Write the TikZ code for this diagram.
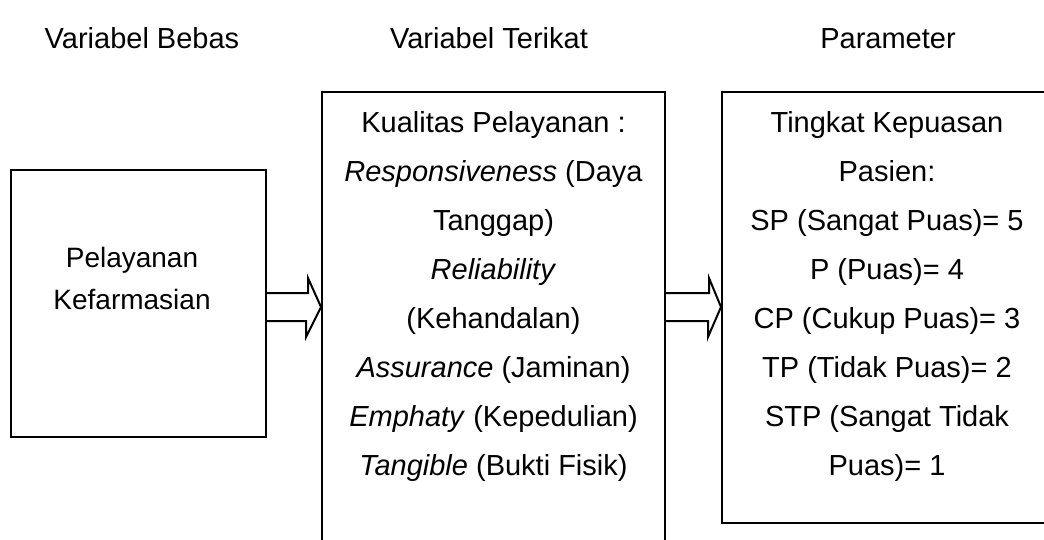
\documentclass[tikz,border=0pt]{standalone}
\usepackage{fontspec}
\setmainfont{Liberation Sans}
\usetikzlibrary{positioning}

\tikzset{
    kotak/.style={draw, line width=2pt, inner sep=0pt, anchor=north west},
    isi/.style={align=center, inner sep=0pt, anchor=north, font=\fontsize{29}{49}\selectfont},
    judul/.style={anchor=base, inner sep=0pt, font=\fontsize{29}{35}\selectfont},
    panah/.style={draw, line width=2pt, line join=miter}
}

\begin{document}
\begin{tikzpicture}[x=1pt, y=-1pt]
        \useasboundingbox (0,0) rectangle (1044,539);

        % judul kolom
        \node[judul] (hBebas) at (142,48) {Variabel Bebas};
        \node[judul] (hTerikat) at (489,48) {Variabel Terikat};
        \node[judul] (hParameter) at (888,48) {Parameter};

        % kotak
        \node[kotak, minimum width=255pt, minimum height=267pt] (bebas) at (10,169) {};
        \node[kotak, minimum width=343pt, minimum height=480pt] (terikat) at (321,91) {};
        \node[kotak, minimum width=330pt, minimum height=431pt] (parameter) at (721,91) {};

        \node[isi, font=\fontsize{28}{42.5}\selectfont] (teksBebas) at (132,247) {Pelayanan\\Kefarmasian};

        \node[isi, below=20pt of terikat.north] (teksTerikat) {Kualitas Pelayanan :\\\textit{Responsiveness} (Daya\\Tanggap)\\\textit{Reliability}\\(Kehandalan)\\\textit{Assurance} (Jaminan)\\\textit{Emphaty} (Kepedulian)\\\textit{Tangible} (Bukti Fisik)};

        \node[isi, below=20pt of parameter.north] (teksParameter) {Tingkat Kepuasan\\Pasien:\\SP (Sangat Puas)= 5\\P (Puas)= 4\\CP (Cukup Puas)= 3\\TP (Tidak Puas)= 2\\STP (Sangat Tidak\\Puas)= 1};

        % panah blok
        \draw[panah] (bebas.east |- 0,293) -- ++(41,0) -- ++(0,-15) -- (terikat.west |- 0,307) -- ++(-15,30) -- ++(0,-16) -- (bebas.east |- 0,321);
        \draw[panah] (terikat.east |- 0,293) -- ++(43,0) -- ++(0,-15) -- (parameter.west |- 0,307) -- ++(-13,30) -- ++(0,-16) -- (terikat.east |- 0,321);

    \end{tikzpicture}
\end{document}
